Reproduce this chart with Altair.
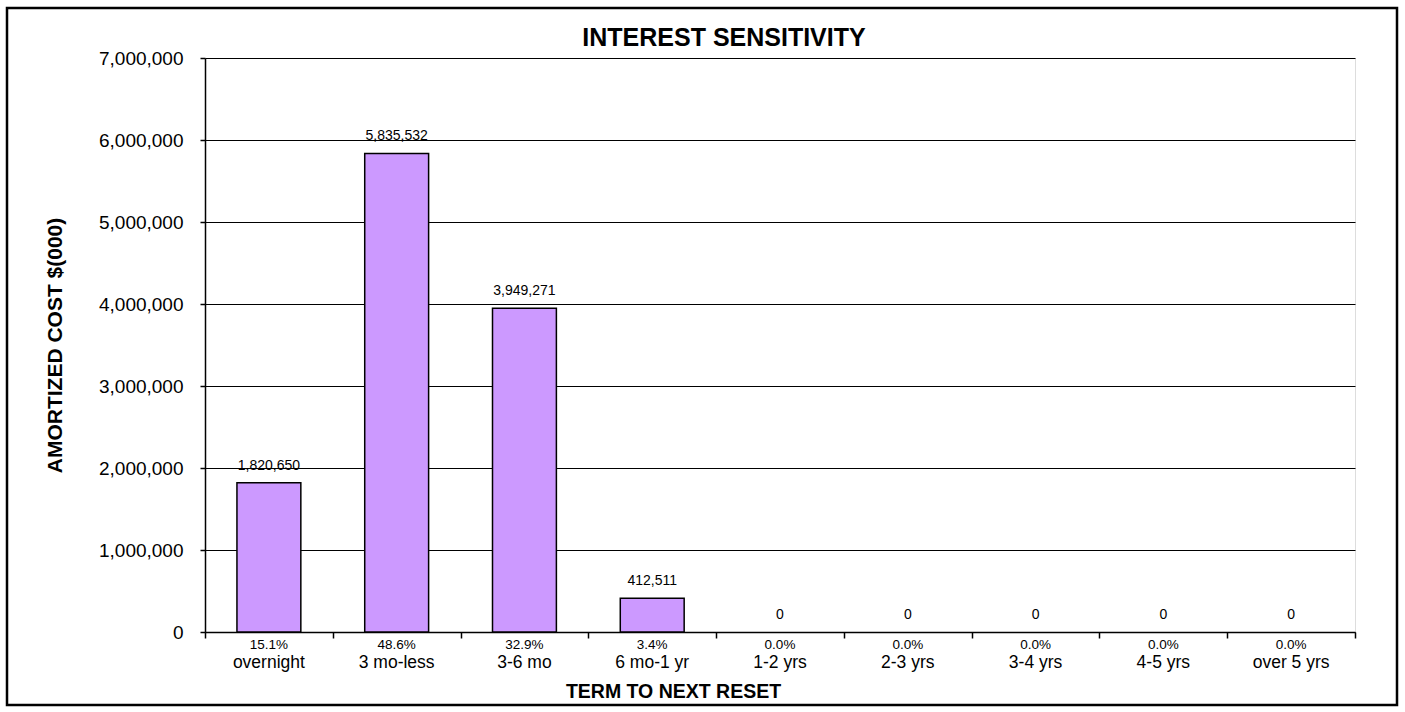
import altair as alt
import pandas as pd

categories = ["overnight", "3 mo-less", "3-6 mo", "6 mo-1 yr", "1-2 yrs",
              "2-3 yrs", "3-4 yrs", "4-5 yrs", "over 5 yrs"]
values = [1820650, 5835532, 3949271, 412511, 0, 0, 0, 0, 0]
percents = ["15.1%", "48.6%", "32.9%", "3.4%", "0.0%", "0.0%", "0.0%", "0.0%", "0.0%"]
y_ticks = [0, 1000000, 2000000, 3000000, 4000000, 5000000, 6000000, 7000000]
chart_title = ["INTEREST SENSITIVITY"]

df = pd.DataFrame({"cat": categories, "val": values, "pct": percents})

W, H = 1150, 574
FONT = "Liberation Sans"

xscale = alt.Scale(paddingInner=0, paddingOuter=0)
xenc = alt.X("cat:N", sort=categories, scale=xscale,
             axis=alt.Axis(title="TERM TO NEXT RESET", labels=False, tickBand="extent",
                           tickSize=6, tickColor="black", domainColor="black",
                           domainWidth=1.5, tickWidth=1.5,
                           titleFontSize=19.5, titleFont=FONT,
                           titleFontWeight="bold", titleColor="black",
                           titleX=468, titleY=65, titleBaseline="alphabetic",
                           titleAlign="center", titleAnchor="start"))
yenc = alt.Y("val:Q", scale=alt.Scale(domain=[0, 7000000], nice=False),
             axis=alt.Axis(title="AMORTIZED COST $(000)", values=y_ticks, format=",d",
                           grid=True, gridColor="black", gridWidth=1, tickSize=5,
                           tickColor="black", tickWidth=1.5, domainColor="black",
                           domainWidth=1.5,
                           labelFontSize=19, labelFont=FONT, labelColor="black",
                           labelPadding=17, titleFontSize=21, titleFont=FONT,
                           titleFontWeight="bold", titleColor="black",
                           titleX=-150, titleY=H / 2, titleAngle=270,
                           titleBaseline="middle", titleAlign="center",
                           titleAnchor="start"))

base = alt.Chart(df)

bars = base.transform_filter("datum.val > 0").mark_bar(
    color="#CC99FF", stroke="black", strokeWidth=1.5, width={"band": 0.5}
).encode(x=xenc, y=yenc)

vlabels = base.mark_text(fontSize=14, font=FONT, baseline="alphabetic", dy=-13,
                         color="black").encode(
    x=alt.X("cat:N", sort=categories), y="val:Q", text=alt.Text("val:Q", format=",d"))

plabels = base.mark_text(fontSize=13.5, font=FONT, baseline="alphabetic",
                         color="black").encode(
    x=alt.X("cat:N", sort=categories), y=alt.value(H + 17), text="pct:N")

nlabels = base.mark_text(fontSize=17.5, font=FONT, baseline="alphabetic",
                         color="black").encode(
    x=alt.X("cat:N", sort=categories), y=alt.value(H + 36), text="cat:N")

one = pd.DataFrame({"t": chart_title})

title = alt.Chart(one).mark_text(fontSize=25, font=FONT, fontWeight="bold",
                                 baseline="alphabetic", align="center",
                                 color="black").encode(
    x=alt.value(519), y=alt.value(-12), text="t:N")

border = alt.Chart(one).mark_rect(
    fill=None, stroke="black", strokeWidth=2.5).encode(
    x=alt.value(-198), x2=alt.value(1192), y=alt.value(-50), y2=alt.value(647))

chart = alt.layer(bars, vlabels, plabels, nlabels, title, border).properties(
    width=W, height=H,
    autosize=alt.AutoSizeParams(type="none"),
    padding={"left": 205, "top": 58, "right": 50, "bottom": 80},
).configure_view(stroke="#808080", strokeWidth=1.5).configure(background="white")

chart.save("out.html", embed_options={"renderer": "svg", "actions": False})
